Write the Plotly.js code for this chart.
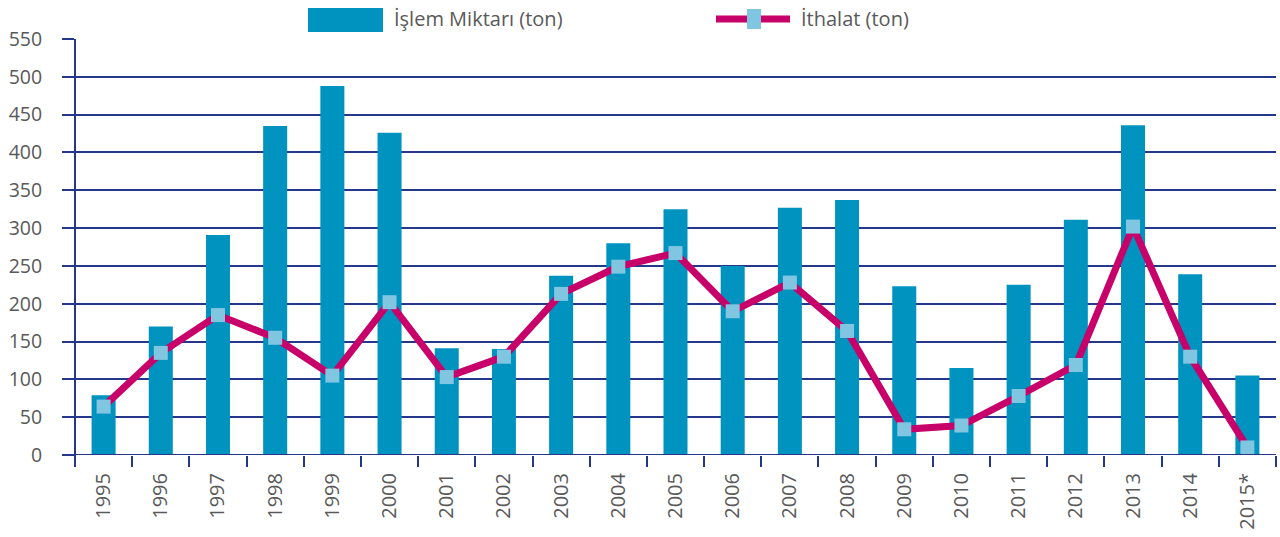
<!DOCTYPE html>
<html>
<head>
<meta charset="utf-8">
<script src="https://cdn.plot.ly/plotly-3.0.1.min.js"></script>
<style>html,body{margin:0;padding:0;background:#fff;}#chart{width:1280px;height:537px;}</style>
</head>
<body>
<div id="chart"></div>
<script>
const years = ["1995","1996","1997","1998","1999","2000","2001","2002","2003","2004","2005","2006","2007","2008","2009","2010","2011","2012","2013","2014","2015*"];
const islemMiktari = [79,170,291,435,488,426,141,140,237,280,325,250,327,337,223,115,225,311,436,239,105];
const ithalat = [64,135,185,155,105,202,103,130,213,249,267,190,228,164,34,39,78,119,302,130,10];
const yTicks = [0,50,100,150,200,250,300,350,400,450,500,550];
const seriesNames = ["İşlem Miktarı (ton)", "İthalat (ton)"];

const barColor = "#0093c0";
const lineColor = "#c8006a";
const markerColor = "#80c6e1";
const gridColor = "#24378a";
const textColor = "#595959";
const fontFamily = "'Open Sans', Lato, sans-serif";

const traces = [
  {type:"bar", x:years, y:islemMiktari, name:seriesNames[0], marker:{color:barColor}, width:0.42, hoverinfo:"x+y"},
  {type:"scatter", mode:"lines+markers", x:years, y:ithalat, name:seriesNames[1],
   line:{color:lineColor, width:7}, marker:{symbol:"square", size:14, color:markerColor}}
];

const layout = {
  width:1280, height:537,
  margin:{l:75, r:4, t:39, b:82},
  paper_bgcolor:"#fff", plot_bgcolor:"#fff",
  showlegend:false,
  font:{family:fontFamily, color:textColor, size:19},
  xaxis:{
    type:"category", tickangle:-90, tickson:"boundaries",
    ticks:"outside", ticklen:11, tickwidth:2, tickcolor:gridColor,
    showgrid:false, showline:false, zeroline:false,
    ticklabelstandoff:13,
    tickfont:{size:20, color:textColor, family:fontFamily},
    range:[-0.5, 20.5]
  },
  yaxis:{
    range:[0,550], tickvals:yTicks, ticktext:yTicks.map(String),
    ticks:"outside", ticklen:12, tickwidth:2, tickcolor:gridColor,
    showgrid:true, gridcolor:gridColor, gridwidth:2,
    showline:false, zeroline:false,
    ticklabelstandoff:16,
    tickfont:{size:19.5, color:textColor, family:fontFamily}
  },
  shapes:[
    {type:"line", xref:"paper", yref:"paper", x0:0, x1:0, y0:-0.028, y1:1, line:{color:gridColor, width:2}},
    {type:"line", xref:"paper", yref:"y", x0:-0.01, x1:1, y0:0, y1:0, line:{color:gridColor, width:2}},
    {type:"rect", xref:"paper", yref:"paper", x0:(308-75)/1201, x1:(383-75)/1201, y0:(455-32)/416, y1:(455-8)/416, fillcolor:barColor, line:{width:0}},
    {type:"line", xref:"paper", yref:"paper", x0:(716-75)/1201, x1:(790-75)/1201, y0:(455-19)/416, y1:(455-19)/416, line:{color:lineColor, width:7}},
    {type:"rect", xref:"paper", yref:"paper", x0:(747-75)/1201, x1:(761-75)/1201, y0:(455-29)/416, y1:(455-9)/416, fillcolor:markerColor, line:{width:0}}
  ],
  annotations:[
    {xref:"paper", yref:"paper", x:(392-75)/1201, y:(455-18)/416, xanchor:"left", yanchor:"middle", text:seriesNames[0], showarrow:false, font:{size:20, color:textColor, family:fontFamily}},
    {xref:"paper", yref:"paper", x:(799-75)/1201, y:(455-18)/416, xanchor:"left", yanchor:"middle", text:seriesNames[1], showarrow:false, font:{size:20, color:textColor, family:fontFamily}}
  ]
};

Plotly.newPlot("chart", traces, layout, {displayModeBar:false, staticPlot:true});
</script>
</body>
</html>
